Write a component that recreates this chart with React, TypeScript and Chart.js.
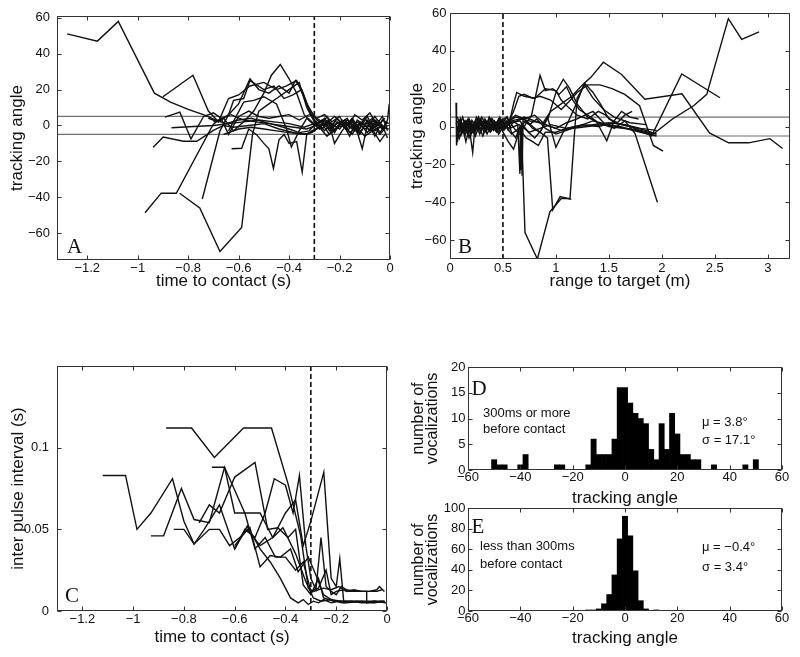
import React, { useEffect, useRef } from 'react';
import { Chart, registerables } from 'chart.js';

Chart.register(...registerables);

const SANS = '"Liberation Sans", Arial, Helvetica, sans-serif';
const SERIF = '"Liberation Serif", "Times New Roman", serif';

type Pt = [number, number];

// ---------------- data ----------------
const A_X_TICKS = [-1.2, -1, -0.8, -0.6, -0.4, -0.2, 0];
const ANGLE_TICKS = [-60, -40, -20, 0, 20, 40, 60];
const B_X_TICKS = [0, 0.5, 1, 1.5, 2, 2.5, 3];
const C_X_TICKS = [-1.2, -1, -0.8, -0.6, -0.4, -0.2, 0];
const C_Y_TICKS = [0, 0.05, 0.1];
const HIST_X_TICKS = [-60, -40, -20, 0, 20, 40, 60];
const D_Y_TICKS = [0, 5, 10, 15, 20];
const E_Y_TICKS = [0, 20, 40, 60, 80, 100];
const ANGLE_BAND = [-5, 5];
const CONTACT_TIME = -0.3;
const CONTACT_RANGE = 0.5;

// Panel A: tracking angle vs time to contact (s)
const A_TRACKS: Pt[][] = [
  [[-1.28,51],[-1.16,47],[-1.077,58],[-0.934,18],[-0.87,13],[-0.8,9],[-0.74,6],[-0.69,3],[-0.65,1],[-0.6,3],[-0.55,4],[-0.5,2],[-0.45,0],[-0.4,-2],[-0.36,-4],[-0.32,-3],[-0.29,2],[-0.26,-3],[-0.23,1],[-0.2,-2],[-0.17,3],[-0.14,-1],[-0.11,2],[-0.08,-3],[-0.05,1],[-0.02,-1]],
  [[-0.9,16],[-0.781,28],[-0.72,8],[-0.68,2],[-0.64,15],[-0.6,17],[-0.555,22],[-0.5,24],[-0.45,20],[-0.41,22],[-0.37,25],[-0.33,12],[-0.3,5],[-0.27,2],[-0.24,-2],[-0.21,4],[-0.18,0],[-0.15,3],[-0.12,-4],[-0.09,2],[-0.06,-6],[-0.03,3],[-0.005,1]],
  [[-0.971,-48.7],[-0.907,-37.7],[-0.847,-37.8],[-0.701,0.6],[-0.67,4],[-0.63,6],[-0.58,3],[-0.53,2],[-0.48,1],[-0.43,0],[-0.38,-1],[-0.33,-2],[-0.29,0],[-0.26,4],[-0.23,-1],[-0.2,2],[-0.17,-3],[-0.14,1],[-0.11,-13],[-0.09,0],[-0.06,3],[-0.03,-2],[-0.01,2]],
  [[-0.834,-37.8],[-0.754,-46],[-0.674,-70.3],[-0.588,-56.9],[-0.545,-5],[-0.52,8],[-0.48,12],[-0.44,16],[-0.4,20],[-0.36,24],[-0.33,10],[-0.3,2],[-0.27,-2],[-0.245,3],[-0.22,-10],[-0.19,-3],[-0.16,2],[-0.13,-4],[-0.1,4],[-0.07,-2],[-0.04,-9],[-0.02,-5]],
  [[-0.744,-41],[-0.674,-3],[-0.64,6],[-0.62,14],[-0.58,15],[-0.555,25],[-0.5,20],[-0.46,22],[-0.42,15],[-0.385,17],[-0.35,20],[-0.32,9],[-0.29,3],[-0.26,0],[-0.22,5],[-0.19,1],[-0.15,-5],[-0.12,2],[-0.09,-1],[-0.06,5],[-0.03,-1],[-0.005,-2]],
  [[-0.939,-12.1],[-0.899,-6.5],[-0.819,-8.8],[-0.766,-8.8],[-0.7,-2.8],[-0.66,0],[-0.62,-1],[-0.56,0],[-0.5,1],[-0.44,-2],[-0.38,-4],[-0.33,-5],[-0.3,-3],[-0.27,1],[-0.24,-5],[-0.21,2],[-0.18,-1],[-0.15,4],[-0.12,-2],[-0.09,5],[-0.06,-3],[-0.03,0],[-0.01,-7]],
  [[-0.892,4.6],[-0.833,7.4],[-0.789,-7.5],[-0.739,5],[-0.7,7],[-0.67,4],[-0.64,-5],[-0.6,5],[-0.56,8],[-0.52,5],[-0.48,4],[-0.44,5],[-0.4,6],[-0.36,3],[-0.32,6],[-0.29,4],[-0.26,6],[-0.23,2],[-0.2,5],[-0.17,-2],[-0.14,6],[-0.11,3],[-0.08,7],[-0.05,0],[-0.02,4]],
  [[-0.866,-1.3],[-0.779,-0.6],[-0.7,0],[-0.64,1],[-0.58,2],[-0.52,3],[-0.46,2],[-0.4,1],[-0.34,-1],[-0.3,1],[-0.27,-2],[-0.24,2],[-0.21,-1],[-0.18,3],[-0.15,-2],[-0.12,1],[-0.09,-4],[-0.06,2],[-0.03,-2],[-0.01,3],[-0.003,12]],
  [[-0.628,-13],[-0.588,-12.7],[-0.56,-2],[-0.53,-5],[-0.5,-10],[-0.48,-13],[-0.462,-24],[-0.44,-8],[-0.42,-5],[-0.4,-10],[-0.37,-9],[-0.348,-26],[-0.33,-5],[-0.31,-3],[-0.28,-1],[-0.25,-6],[-0.22,-2],[-0.19,0],[-0.16,-4],[-0.13,-1],[-0.1,-6],[-0.07,-3],[-0.04,-1]],
  [[-0.7,2],[-0.66,4],[-0.62,-3],[-0.58,2],[-0.54,8],[-0.5,18],[-0.47,28],[-0.435,34],[-0.4,26],[-0.37,18],[-0.34,6],[-0.31,2],[-0.28,-2],[-0.25,5],[-0.22,-3],[-0.19,2],[-0.16,-6],[-0.13,3],[-0.1,0],[-0.07,4],[-0.04,-4],[-0.01,2]],
  [[-0.72,4],[-0.68,2],[-0.64,6],[-0.6,12],[-0.555,26],[-0.52,20],[-0.48,18],[-0.44,22],[-0.4,18],[-0.375,25],[-0.35,20],[-0.32,8],[-0.29,1],[-0.26,3],[-0.23,-4],[-0.2,1],[-0.17,4],[-0.14,-3],[-0.11,2],[-0.08,-3],[-0.05,3],[-0.02,-2]],
  [[-0.66,-5],[-0.6,-2],[-0.55,-1],[-0.5,-2],[-0.45,-3],[-0.4,-4],[-0.35,-5],[-0.31,-4],[-0.28,-1],[-0.25,2],[-0.22,-4],[-0.19,3],[-0.16,-1],[-0.13,2],[-0.1,-2],[-0.07,1],[-0.04,-5],[-0.01,0]],
  [[-0.64,-3],[-0.58,13],[-0.54,14],[-0.5,16],[-0.45,12],[-0.41,-2],[-0.391,-12],[-0.36,-3],[-0.33,4],[-0.3,0],[-0.27,3],[-0.24,-3],[-0.21,4],[-0.18,-1],[-0.15,2],[-0.12,-5],[-0.09,3],[-0.06,-1],[-0.03,5],[-0.01,-3]],
];

// Panel B: tracking angle vs range to target (m)
const B_TRACKS: Pt[][] = [
  [[0.08,1],[0.12,-3],[0.16,3],[0.2,-1],[0.25,4],[0.29,-2],[0.33,2],[0.38,-3],[0.43,1],[0.47,3],[0.52,0],[0.58,3],[0.66,4],[0.75,3],[0.85,2],[0.95,0],[1.05,-2],[1.15,-1],[1.3,0],[1.45,1],[1.6,0],[1.75,-2],[1.92,-4],[2.1,4],[2.3,11],[2.424,17],[2.628,57],[2.754,46],[2.918,50]],
  [[0.07,-3],[0.1,4],[0.14,-5],[0.18,2],[0.22,-3],[0.27,5],[0.31,-1],[0.36,3],[0.41,-2],[0.46,4],[0.5,1],[0.55,3],[0.62,6],[0.7,4],[0.8,6],[0.88,2],[0.95,8],[1.05,12],[1.15,16],[1.25,22],[1.33,26],[1.448,34],[1.62,27.5],[1.84,14.4],[2.19,17.3],[2.45,-3.4],[2.63,-8.6],[2.82,-8.6],[3.02,-6.4],[3.14,-11.6]],
  [[0.06,2],[0.09,-6],[0.13,1],[0.17,-4],[0.21,3],[0.26,-1],[0.3,5],[0.35,0],[0.4,4],[0.45,-2],[0.5,2],[0.56,-1],[0.65,1],[0.75,-3],[0.85,-1],[0.95,1],[1.1,-1],[1.25,1],[1.4,0],[1.55,2],[1.7,0],[1.904,-4.9],[2.188,27.8],[2.549,15.2]],
  [[0.08,-2],[0.11,2],[0.15,-8],[0.19,1],[0.23,-4],[0.28,3],[0.32,-3],[0.37,2],[0.42,-1],[0.47,5],[0.51,-2],[0.55,2],[0.6,8],[0.65,16],[0.7,17],[0.78,15],[0.85,16],[0.95,14],[1.05,9],[1.12,13],[1.2,18],[1.3,22],[1.416,22],[1.53,20],[1.65,17],[1.79,11],[1.92,-10],[2.01,-13]],
  [[0.057,12.6],[0.062,-10],[0.09,3],[0.13,-2],[0.17,4],[0.214,-13.7],[0.24,2],[0.29,-1],[0.34,3],[0.39,-2],[0.44,2],[0.49,-1],[0.53,3],[0.6,2],[0.7,5],[0.8,3],[0.9,1],[1.0,-1],[1.1,2],[1.2,4],[1.35,8],[1.45,2],[1.55,-1],[1.65,3],[1.746,-3.6],[1.958,-40]],
  [[0.07,3],[0.11,-4],[0.14,2],[0.18,-6],[0.22,1],[0.26,-2],[0.3,3],[0.35,-4],[0.4,2],[0.44,-1],[0.48,4],[0.52,-1],[0.57,2],[0.62,-2],[0.677,-5],[0.708,-56],[0.825,-70],[0.944,-45],[1.05,-38],[1.133,-38],[1.171,-7],[1.2,15],[1.27,22],[1.35,15],[1.45,9],[1.55,5],[1.7,2],[1.85,1]],
  [[0.09,0],[0.12,5],[0.16,-3],[0.2,3],[0.24,-5],[0.28,1],[0.33,-2],[0.37,5],[0.42,0],[0.46,-3],[0.5,2],[0.54,5],[0.58,-3],[0.62,-6],[0.66,0],[0.72,3],[0.78,-1],[0.85,-3],[0.92,-6],[0.97,-44],[1.04,-37],[1.145,-38.5]],
  [[0.07,-8],[0.1,1],[0.14,-3],[0.18,4],[0.22,-2],[0.27,1],[0.31,-5],[0.36,2],[0.4,-1],[0.45,3],[0.5,-3],[0.55,-8],[0.6,-12],[0.65,-3],[0.7,0],[0.77,6],[0.85,27],[0.9,19],[0.97,20],[1.03,17],[1.1,21],[1.16,14],[1.22,9],[1.3,6],[1.38,3],[1.48,-7.5],[1.55,3],[1.62,8],[1.7,5],[1.78,4]],
  [[0.08,4],[0.12,-1],[0.16,2],[0.2,-4],[0.25,5],[0.3,1],[0.34,-3],[0.39,4],[0.43,0],[0.48,2],[0.53,5],[0.58,2],[0.66,3],[0.74,-3],[0.8,-6],[0.86,-2],[0.93,5],[1.0,18],[1.07,25],[1.13,20],[1.2,12],[1.3,5],[1.4,2],[1.5,0],[1.65,-1],[1.8,-3],[1.95,-5]],
  [[0.06,-3],[0.1,2],[0.13,-2],[0.17,3],[0.21,-3],[0.25,2],[0.29,-3],[0.33,4],[0.38,-2],[0.42,3],[0.47,-1],[0.51,2],[0.55,-2],[0.6,3],[0.64,1],[0.66,-25],[0.665,0],[0.67,-23],[0.675,2],[0.68,-26],[0.69,3],[0.75,1],[0.82,4],[0.9,-1],[1.0,-4],[1.1,-2],[1.2,0],[1.35,3],[1.5,1],[1.65,-1],[1.8,-2],[1.95,-4]],
  [[0.07,5],[0.11,-2],[0.15,3],[0.19,-1],[0.24,2],[0.28,-4],[0.32,3],[0.37,-1],[0.41,2],[0.46,-4],[0.5,0],[0.56,3],[0.62,5],[0.7,4],[0.78,0],[0.85,-3],[0.92,5],[1.0,-11],[1.06,-4],[1.12,3],[1.2,13],[1.27,23],[1.35,18],[1.42,12],[1.5,4],[1.58,2],[1.65,6],[1.72,8]],
  [[0.08,2],[0.13,-1],[0.18,3],[0.23,-3],[0.28,2],[0.33,0],[0.38,4],[0.43,-2],[0.48,3],[0.52,-1],[0.56,2],[0.6,12],[0.63,18],[0.7,16],[0.8,15],[0.9,20],[1.0,19],[1.05,14],[1.12,10],[1.2,6],[1.3,4],[1.4,8],[1.47,6],[1.55,2],[1.7,0],[1.85,-2],[1.95,-4]],
  [[0.09,-1],[0.14,3],[0.19,-2],[0.24,0],[0.29,4],[0.34,-2],[0.39,1],[0.44,-3],[0.49,3],[0.53,0],[0.58,-4],[0.65,-1],[0.72,-6],[0.78,-8],[0.834,-10],[0.9,-3],[1.0,-3],[1.1,-1],[1.2,0],[1.35,1],[1.5,2],[1.65,1],[1.8,-1],[1.95,-2]],
];

// Panel C: inter pulse interval (s) vs time to contact (s)
const C_TRACKS: Pt[][] = [
  [[-1.12,0.083],[-1.03,0.083],[-0.985,0.05],[-0.93,0.06],[-0.845,0.081],[-0.8,0.055],[-0.76,0.041],[-0.72,0.05],[-0.66,0.065],[-0.6,0.038],[-0.55,0.052],[-0.5,0.038],[-0.46,0.03],[-0.42,0.02],[-0.38,0.008],[-0.35,0.005],[-0.33,0.007],[-0.31,0.004],[-0.29,0.006],[-0.27,0.005],[-0.25,0.007],[-0.22,0.005],[-0.19,0.006],[-0.16,0.005],[-0.1,0.006],[-0.05,0.005],[-0.01,0.006]],
  [[-0.87,0.112],[-0.77,0.112],[-0.68,0.094],[-0.565,0.112],[-0.455,0.112],[-0.39,0.078],[-0.34,0.046],[-0.31,0.014],[-0.29,0.012],[-0.25,0.014],[-0.22,0.013],[-0.19,0.015],[-0.16,0.012],[-0.13,0.013],[-0.1,0.012],[-0.07,0.012],[-0.04,0.013],[-0.03,0.015],[-0.01,0.012]],
  [[-0.93,0.046],[-0.88,0.046],[-0.81,0.075],[-0.76,0.056],[-0.7,0.054],[-0.64,0.088],[-0.56,0.06],[-0.5,0.06],[-0.45,0.045],[-0.41,0.051],[-0.36,0.035],[-0.32,0.018],[-0.29,0.008],[-0.26,0.006],[-0.22,0.007],[-0.18,0.005],[-0.12,0.006],[-0.06,0.005],[-0.01,0.006]],
  [[-0.84,0.05],[-0.8,0.05],[-0.76,0.041],[-0.7,0.05],[-0.66,0.05],[-0.62,0.04],[-0.58,0.045],[-0.54,0.051],[-0.5,0.027],[-0.46,0.034],[-0.42,0.033],[-0.38,0.038],[-0.35,0.024],[-0.31,0.033],[-0.28,0.022],[-0.25,0.01],[-0.22,0.007],[-0.18,0.006],[-0.12,0.006],[-0.05,0.006],[0,0.005]],
  [[-0.69,0.088],[-0.64,0.088],[-0.6,0.06],[-0.56,0.06],[-0.52,0.038],[-0.48,0.045],[-0.44,0.033],[-0.4,0.033],[-0.36,0.025],[-0.33,0.03],[-0.3,0.012],[-0.27,0.014],[-0.24,0.025],[-0.22,0.01],[-0.2,0.012],[-0.17,0.013],[-0.1,0.012],[-0.08,0.012],[-0.08,0.005],[-0.05,0.006],[-0.01,0.006]],
  [[-0.74,0.054],[-0.7,0.065],[-0.66,0.06],[-0.6,0.082],[-0.52,0.091],[-0.47,0.05],[-0.43,0.051],[-0.39,0.045],[-0.36,0.05],[-0.33,0.016],[-0.3,0.01],[-0.27,0.02],[-0.25,0.008],[-0.21,0.006],[-0.15,0.006],[-0.08,0.005],[-0.02,0.006]],
  [[-0.6,0.038],[-0.56,0.05],[-0.52,0.045],[-0.48,0.06],[-0.444,0.081],[-0.4,0.077],[-0.37,0.06],[-0.345,0.083],[-0.32,0.04],[-0.3,0.02],[-0.28,0.013],[-0.26,0.045],[-0.24,0.015],[-0.22,0.012],[-0.2,0.01],[-0.18,0.015],[-0.15,0.012],[-0.12,0.012],[-0.08,0.012],[-0.04,0.012],[-0.02,0.013]],
  [[-0.6,0.04],[-0.55,0.05],[-0.5,0.04],[-0.45,0.045],[-0.4,0.06],[-0.36,0.068],[-0.33,0.04],[-0.3,0.055],[-0.249,0.085],[-0.22,0.02],[-0.2,0.015],[-0.186,0.032],[-0.17,0.005],[-0.14,0.006],[-0.1,0.005],[-0.05,0.006],[0,0.005]],
];

// Panel D: histogram, 300ms or more before contact (bin centres, counts)
const D_BINS = [-50,-48,-46,-40,-38,-26,-24,-14,-12,-10,-8,-6,-4,-2,0,2,4,6,8,10,12,14,16,18,20,22,24,26,28,34,46,50];
const D_COUNTS = [2,1,1,1,3,1,1,1,6,3,3,3,6,16,16,13,11,10,9,4,2,9,4,11,7,3,3,2,2,1,1,2];

// Panel E: histogram, less than 300ms before contact
const E_BINS = [-14,-12,-10,-8,-6,-4,-2,0,2,4,6,8,12];
const E_COUNTS = [1,1,2,7,16,35,70,92,73,39,10,2,1];

// ---------------- helpers ----------------
const fmt = (v: number) => (v < 0 ? '\u2212' : '') + String(Math.abs(v));

type TextItem = { text: string; dx: number; dy: number; font: string };

const framePlugin = {
  id: 'frameTicks',
  afterDatasetsDraw(chart: any) {
    const { ctx, chartArea: a, scales } = chart;
    const L = Math.round(a.left) + 0.5;
    const R = Math.round(a.right) - 0.5;
    const T = Math.round(a.top) + 0.5;
    const B = Math.round(a.bottom) - 0.5;
    ctx.save();
    ctx.strokeStyle = '#333';
    ctx.lineWidth = 1;
    ctx.strokeRect(L, T, R - L, B - T);
    const len = 4;
    ctx.beginPath();
    for (const t of scales.x.ticks) {
      const p = Math.round(scales.x.getPixelForValue(t.value)) + 0.5;
      ctx.moveTo(p, B); ctx.lineTo(p, B - len);
      ctx.moveTo(p, T); ctx.lineTo(p, T + len);
    }
    for (const t of scales.y.ticks) {
      const p = Math.round(scales.y.getPixelForValue(t.value)) + 0.5;
      ctx.moveTo(L, p); ctx.lineTo(L + len, p);
      ctx.moveTo(R, p); ctx.lineTo(R - len, p);
    }
    ctx.stroke();
    ctx.restore();
  },
};

const textPlugin = (items: TextItem[]) => ({
  id: 'panelText',
  afterDraw(chart: any) {
    const { ctx, chartArea: a } = chart;
    ctx.save();
    ctx.fillStyle = '#111';
    ctx.textAlign = 'left';
    ctx.textBaseline = 'alphabetic';
    for (const it of items) {
      ctx.font = it.font;
      ctx.fillText(it.text, a.left + it.dx, a.top + it.dy);
    }
    ctx.restore();
  },
});

interface Spec {
  left: number; top: number; width: number; height: number;
  yAxisW: number; xAxisH: number; padTop: number; padRight: number;
  xMin: number; xMax: number; yMin: number; yMax: number;
  xTicks: number[]; yTicks: number[];
  xTitle: string; yTitle: string | string[];
  yTitlePad: number; xTitlePad: number; yTickPad: number; xTickPad: number;
  yTitleLH?: number;
  texts: TextItem[];
  kind: 'line' | 'bar';
  tracks?: Pt[][];
  band?: boolean;
  vline?: number;
  bins?: number[]; counts?: number[];
}

function buildConfig(s: Spec): any {
  const tickFont = { family: SANS, size: 13, lineHeight: 1 };
  const titleFont = { family: SANS, size: 17 };
  const scales = {
    x: {
      type: 'linear', position: 'bottom', min: s.xMin, max: s.xMax, offset: false,
      grid: { display: false, drawTicks: false, offset: false },
      border: { display: false },
      afterBuildTicks: (sc: any) => { sc.ticks = s.xTicks.map((v) => ({ value: v })); },
      afterFit: (sc: any) => { sc.height = s.xAxisH; sc.paddingLeft = 0; sc.paddingRight = 0; },
      ticks: { autoSkip: false, maxRotation: 0, minRotation: 0, padding: s.xTickPad, color: '#111', font: tickFont, callback: (v: number) => fmt(v) },
      title: { display: true, text: s.xTitle, color: '#111', font: titleFont, padding: { top: 0, bottom: s.xTitlePad } },
    },
    y: {
      type: 'linear', position: 'left', min: s.yMin, max: s.yMax,
      grid: { display: false, drawTicks: false },
      border: { display: false },
      afterBuildTicks: (sc: any) => { sc.ticks = s.yTicks.map((v) => ({ value: v })); },
      afterFit: (sc: any) => { sc.width = s.yAxisW; sc.paddingTop = 0; sc.paddingBottom = 0; },
      ticks: { autoSkip: false, padding: s.yTickPad, color: '#111', font: tickFont, callback: (v: number) => fmt(v) },
      title: {
        display: true, text: s.yTitle, color: '#111',
        font: { family: SANS, size: Array.isArray(s.yTitle) ? 16 : 17, lineHeight: s.yTitleLH ?? 1.2 },
        padding: { top: s.yTitlePad, bottom: 0 },
      },
    },
  };

  let datasets: any[] = [];
  if (s.kind === 'line') {
    datasets = (s.tracks || []).map((tr) => ({
      data: tr.map(([x, y]) => ({ x, y })),
      showLine: true, borderColor: '#111', borderWidth: 1.4, pointRadius: 0, fill: false, tension: 0, order: 1,
    }));
    if (s.band) {
      for (const b of ANGLE_BAND) {
        datasets.push({
          data: [{ x: s.xMin, y: b }, { x: s.xMax, y: b }],
          showLine: true, borderColor: '#6f6f6f', borderWidth: 1.2, pointRadius: 0, order: 2,
        });
      }
    }
    if (s.vline !== undefined) {
      datasets.push({
        data: [{ x: s.vline, y: s.yMin }, { x: s.vline, y: s.yMax }],
        showLine: true, borderColor: '#111', borderWidth: 1.6, borderDash: [5, 3], pointRadius: 0, order: 0,
      });
    }
  } else {
    datasets = [{
      data: (s.bins || []).map((b, i) => ({ x: b, y: (s.counts || [])[i] })),
      backgroundColor: '#000', borderWidth: 0, barPercentage: 1, categoryPercentage: 1, grouped: false,
    }];
  }

  return {
    type: s.kind === 'line' ? 'scatter' : 'bar',
    data: { datasets },
    options: {
      responsive: false, animation: false, devicePixelRatio: 1, events: [],
      layout: { padding: { top: s.padTop, right: s.padRight, left: 0, bottom: 0 } },
      plugins: { legend: { display: false }, tooltip: { enabled: false }, title: { display: false } },
      scales,
    },
    plugins: [framePlugin, textPlugin(s.texts)],
  };
}

const LETTER = `21px ${SERIF}`;
const NOTE = `13px ${SANS}`;

const SPECS: Spec[] = [
  {
    left: 0, top: 0, width: 400, height: 300, yAxisW: 57, xAxisH: 40, padTop: 16, padRight: 10,
    xMin: -1.32, xMax: 0, yMin: -75, yMax: 61, xTicks: A_X_TICKS, yTicks: ANGLE_TICKS,
    xTitle: 'time to contact (s)', yTitle: 'tracking angle', yTitlePad: 6.8, xTitlePad: 8, yTickPad: 7, xTickPad: 2,
    texts: [{ text: 'A', dx: 10, dy: 237, font: LETTER }],
    kind: 'line', tracks: A_TRACKS, band: true, vline: CONTACT_TIME,
  },
  {
    left: 400, top: 0, width: 400, height: 300, yAxisW: 50, xAxisH: 41, padTop: 13, padRight: 10,
    xMin: 0, xMax: 3.21, yMin: -70, yMax: 60, xTicks: B_X_TICKS, yTicks: ANGLE_TICKS,
    xTitle: 'range to target (m)', yTitle: 'tracking angle', yTitlePad: 6.8, xTitlePad: 8, yTickPad: 3.5, xTickPad: 2.5,
    texts: [{ text: 'B', dx: 8, dy: 240, font: LETTER }],
    kind: 'line', tracks: B_TRACKS, band: true, vline: CONTACT_RANGE,
  },
  {
    left: 0, top: 330, width: 400, height: 327, yAxisW: 57, xAxisH: 46, padTop: 36, padRight: 13,
    xMin: -1.3, xMax: 0, yMin: 0, yMax: 0.15, xTicks: C_X_TICKS, yTicks: C_Y_TICKS,
    xTitle: 'time to contact (s)', yTitle: 'inter pulse interval (s)', yTitlePad: 8.1, xTitlePad: 9, yTickPad: 8, xTickPad: 2,
    texts: [{ text: 'C', dx: 8, dy: 236, font: LETTER }],
    kind: 'line', tracks: C_TRACKS, vline: CONTACT_TIME,
  },
  {
    left: 400, top: 340, width: 400, height: 170, yAxisW: 68, xAxisH: 40, padTop: 27, padRight: 18,
    xMin: -60, xMax: 60, yMin: 0, yMax: 20, xTicks: HIST_X_TICKS, yTicks: D_Y_TICKS,
    xTitle: 'tracking angle', yTitle: ['number of', 'vocalizations'], yTitleLH: 0.9, yTitlePad: 11.1, xTitlePad: 1.5, yTickPad: 2.5, xTickPad: 0.5,
    texts: [
      { text: 'D', dx: 3.5, dy: 28, font: LETTER },
      { text: '300ms or more', dx: 15, dy: 50, font: NOTE },
      { text: 'before contact', dx: 15, dy: 66, font: NOTE },
      { text: '\u03bc = 3.8\u00b0', dx: 234, dy: 59, font: NOTE },
      { text: '\u03c3 = 17.1\u00b0', dx: 234, dy: 77, font: NOTE },
    ],
    kind: 'bar', bins: D_BINS, counts: D_COUNTS,
  },
  {
    left: 400, top: 500, width: 400, height: 157, yAxisW: 68, xAxisH: 46, padTop: 8, padRight: 18,
    xMin: -60, xMax: 60, yMin: 0, yMax: 100, xTicks: HIST_X_TICKS, yTicks: E_Y_TICKS,
    xTitle: 'tracking angle', yTitle: ['number of', 'vocalizations'], yTitleLH: 0.9, yTitlePad: 11.1, xTitlePad: 8, yTickPad: 2.5, xTickPad: 0.5,
    texts: [
      { text: 'E', dx: 3.5, dy: 25, font: LETTER },
      { text: 'less than 300ms', dx: 12, dy: 42, font: NOTE },
      { text: 'before contact', dx: 12, dy: 60, font: NOTE },
      { text: '\u03bc = \u22120.4\u00b0', dx: 234, dy: 43, font: NOTE },
      { text: '\u03c3 = 3.4\u00b0', dx: 234, dy: 63, font: NOTE },
    ],
    kind: 'bar', bins: E_BINS, counts: E_COUNTS,
  },
];

function Panel({ spec }: { spec: Spec }) {
  const ref = useRef<HTMLCanvasElement>(null);
  useEffect(() => {
    if (!ref.current) return;
    const chart = new Chart(ref.current, buildConfig(spec));
    return () => chart.destroy();
  }, [spec]);
  return (
    <canvas
      ref={ref}
      width={spec.width}
      height={spec.height}
      style={{ position: 'absolute', left: spec.left, top: spec.top, width: spec.width, height: spec.height }}
    />
  );
}

export default function App() {
  return (
    <div style={{ position: 'fixed', left: 0, top: 0, width: 800, height: 657, background: '#fff', overflow: 'hidden' }}>
      {SPECS.map((s, i) => (
        <Panel key={i} spec={s} />
      ))}
    </div>
  );
}
